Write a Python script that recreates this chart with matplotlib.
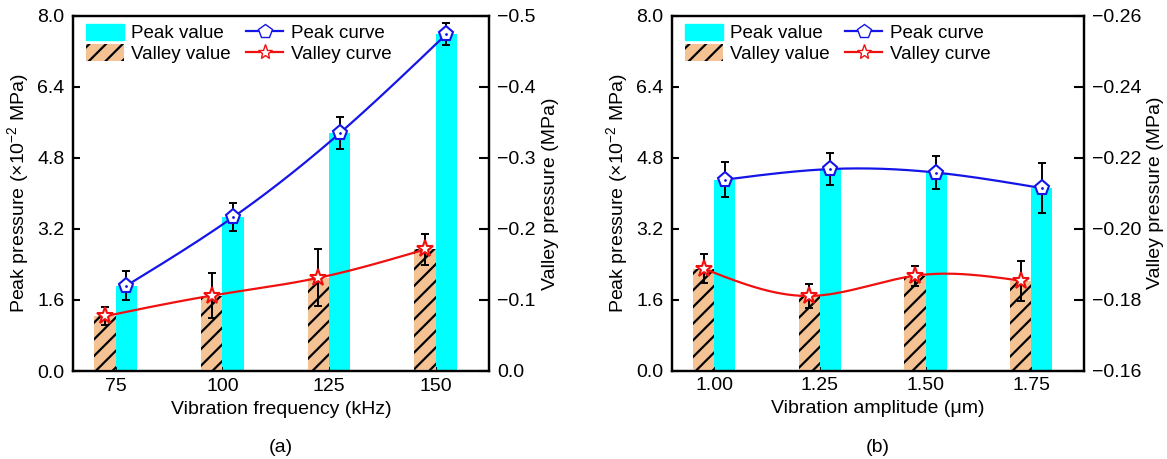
import numpy as np
import matplotlib
matplotlib.use("Agg")
import matplotlib.pyplot as plt
from matplotlib.ticker import FuncFormatter

plt.rcParams['font.family'] = ['Liberation Sans', 'DejaVu Sans']
plt.rcParams['mathtext.fontset'] = 'custom'
plt.rcParams['mathtext.rm'] = 'Liberation Sans'
plt.rcParams['hatch.linewidth'] = 1.6

# (a) frequency sweep
freq_labels = ['75', '100', '125', '150']
peak_freq = [1.92, 3.46, 5.35, 7.58]          # x10^-2 MPa
peak_freq_err = [0.32, 0.31, 0.36, 0.25]
valley_freq = [-0.077, -0.106, -0.131, -0.171]  # MPa
valley_freq_err = [0.013, 0.032, 0.040, 0.022]

# (b) amplitude sweep
amp_labels = ['1.00', '1.25', '1.50', '1.75']
peak_amp = [4.30, 4.54, 4.46, 4.11]
peak_amp_err = [0.39, 0.37, 0.38, 0.56]
valley_amp = [-0.1887, -0.1810, -0.1867, -0.1853]
valley_amp_err = [0.0041, 0.0034, 0.0028, 0.0056]

CYAN = '#00FFFF'
ORANGE = '#F5C393'
BLUE = '#1515E8'
RED = '#F01010'
W = 0.2
FS = 14


def smooth(y):
    # natural cubic spline through the points, unit spacing
    y = np.asarray(y, float)
    n = len(y)
    A = np.zeros((n, n))
    b = np.zeros(n)
    A[0, 0] = A[-1, -1] = 1
    for i in range(1, n - 1):
        A[i, i - 1:i + 2] = [1, 4, 1]
        b[i] = 6 * (y[i - 1] - 2 * y[i] + y[i + 1])
    M = np.linalg.solve(A, b)
    xs = np.linspace(0, n - 1, 300)
    i = np.minimum(xs.astype(int), n - 2)
    t = xs - i
    ys = (M[i] * (1 - t) ** 3 + M[i + 1] * t ** 3) / 6 \
        + (y[i] - M[i] / 6) * (1 - t) + (y[i + 1] - M[i + 1] / 6) * t
    return xs, ys


def minus_fmt(fmt):
    return FuncFormatter(lambda v, p: (fmt % v).replace('-', '\u2212'))


def panel(ax, labels, peak, peak_err, valley, valley_err, vlim, vticks, vfmt, xlabel):
    x = np.arange(len(labels))
    ax2 = ax.twinx()

    ax.bar(x + W / 2, peak, W, color=CYAN, zorder=1)
    ax.errorbar(x + W / 2, peak, yerr=peak_err, fmt='none', ecolor='black',
                elinewidth=1.4, capsize=3, capthick=1.4, zorder=2)
    xs, ys = smooth(peak)
    ax.plot(xs + W / 2, ys, color=BLUE, lw=1.6, zorder=3)
    ax.plot(x + W / 2, peak, ls='none', marker='p', ms=11, mfc='white',
            mec=BLUE, mew=1.5, zorder=4)
    ax.plot(x + W / 2, peak, ls='none', marker='.', ms=2, color=BLUE, zorder=5)

    base = vlim[0]
    ax2.bar(x - W / 2, np.array(valley) - base, W, bottom=base, color=ORANGE,
            edgecolor='black', linewidth=0, hatch='//', zorder=1)
    ax2.errorbar(x - W / 2, valley, yerr=valley_err, fmt='none', ecolor='black',
                 elinewidth=1.4, capsize=3, capthick=1.4, zorder=2)
    xs, ys = smooth(valley)
    ax2.plot(xs - W / 2, ys, color=RED, lw=1.6, zorder=3)
    ax2.plot(x - W / 2, valley, ls='none', marker='*', ms=12.5, mfc='white',
             mec=RED, mew=1.5, zorder=4)

    ax.set_xlim(-0.4, 3.5)
    ax.set_xticks(x)
    ax.set_xticklabels(labels)
    ax.set_ylim(0, 8)
    ax.set_yticks(np.arange(0, 8.01, 1.6))
    ax.yaxis.set_major_formatter(minus_fmt('%.1f'))
    ax2.set_ylim(*vlim)
    ax2.set_yticks(vticks)
    ax2.yaxis.set_major_formatter(minus_fmt(vfmt))

    ax.tick_params(axis='x', direction='in', length=3, width=1.2, labelsize=FS, pad=5)
    ax.tick_params(axis='y', direction='in', length=5, width=1.5, labelsize=FS, pad=6)
    ax2.tick_params(axis='y', direction='in', length=7, width=1.5, labelsize=FS, pad=6)
    for a in (ax, ax2):
        for s in a.spines.values():
            s.set_linewidth(1.6)

    ax.set_xlabel(xlabel, fontsize=FS, labelpad=4)
    ax.set_ylabel(r'Peak pressure (×10$^{\mathregular{-2}}$ MPa)', fontsize=FS, labelpad=4)
    ax2.set_ylabel('Valley pressure (MPa)', fontsize=FS, labelpad=4)

    h = [
        plt.Rectangle((0, 0), 1, 1, color=CYAN),
        plt.Rectangle((0, 0), 1, 1, facecolor=ORANGE, edgecolor='black', lw=0, hatch='//'),
        plt.Line2D([], [], color=BLUE, lw=1.6, marker='p', ms=10, mfc='white', mec=BLUE),
        plt.Line2D([], [], color=RED, lw=1.6, marker='*', ms=11, mfc='white', mec=RED),
    ]
    ax2.legend(h, ['Peak value', 'Valley value', 'Peak curve', 'Valley curve'],
               ncol=2, loc='upper left', frameon=False, fontsize=13.5,
               handlelength=2.0, handleheight=1.0, labelspacing=0.1,
               handletextpad=0.4, columnspacing=0.8,
               borderaxespad=0.3, bbox_to_anchor=(0.0, 1.014))


fig = plt.figure(figsize=(11.67, 4.59), dpi=100)
ax_a = fig.add_axes([73 / 1167, 1 - 371 / 459, 416 / 1167, 355.5 / 459])
ax_b = fig.add_axes([672 / 1167, 1 - 370.5 / 459, 412 / 1167, 355 / 459])

panel(ax_a, freq_labels, peak_freq, peak_freq_err, valley_freq, valley_freq_err,
      (0.0, -0.5), np.arange(0, -0.51, -0.1), '%.1f', 'Vibration frequency (kHz)')
panel(ax_b, amp_labels, peak_amp, peak_amp_err, valley_amp, valley_amp_err,
      (-0.16, -0.26), np.arange(-0.16, -0.261, -0.02), '%.2f', 'Vibration amplitude (μm)')

fig.text(281 / 1167, 1 - 447 / 459, '(a)', ha='center', va='center', fontsize=FS)
fig.text(878 / 1167, 1 - 447 / 459, '(b)', ha='center', va='center', fontsize=FS)

fig.savefig('out.png', dpi=100)
